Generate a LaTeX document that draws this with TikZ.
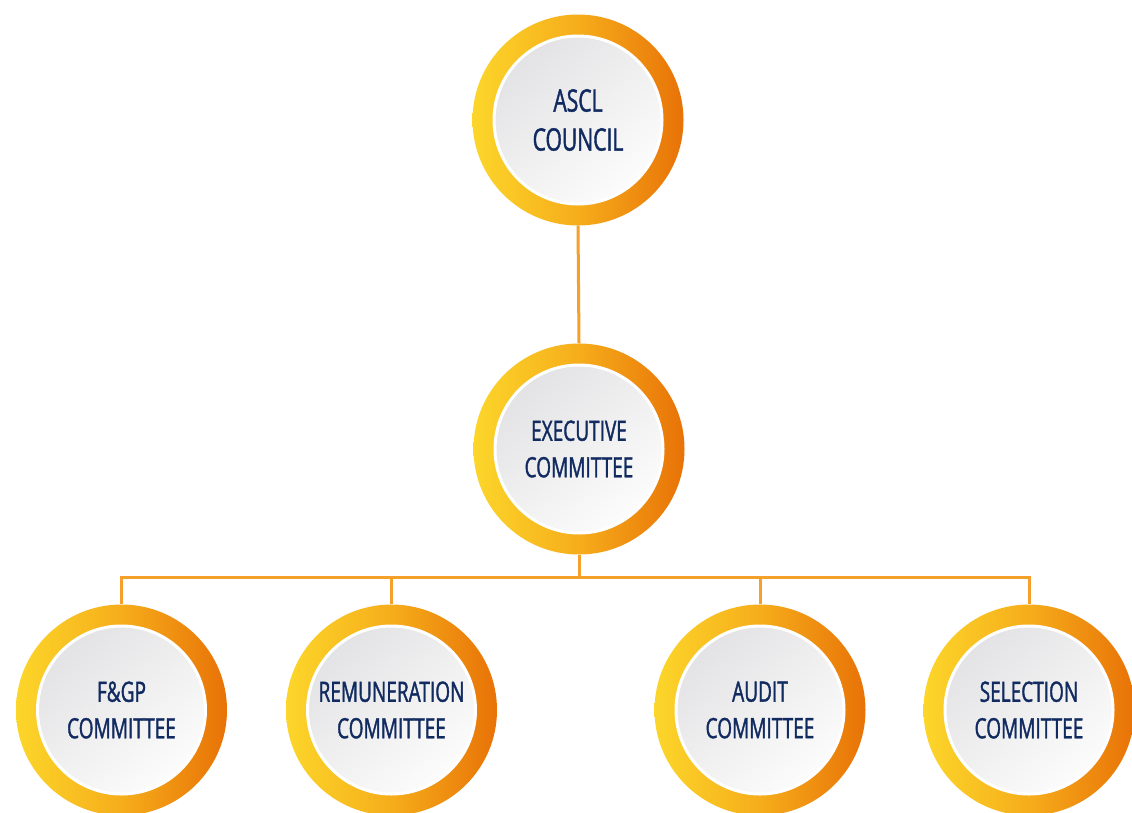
\documentclass[tikz,border=0pt]{standalone}
\usepackage{fontspec}
\setmainfont{Open Sans}[FakeStretch=0.68,FakeBold=1.3]
\begin{document}
\begin{tikzpicture}[x=1pt,y=-1pt,
  ring/.style={circle,minimum size=211pt,inner sep=0pt,
    left color=ringL,right color=ringR,middle color=ringM},
  face/.style={circle,minimum size=168pt,inner sep=0pt,draw=white,line width=3pt,
    top color=faceT,bottom color=faceB,shading angle=40,
    text=navy,align=center},
  big/.style={font=\fontsize{31}{39}\selectfont},
  small/.style={font=\fontsize{28}{36.5}\selectfont},
  link/.style={draw=linkC,line width=3pt}]
\definecolor{ringL}{HTML}{FCD62A}
\definecolor{ringM}{HTML}{F6AD1B}
\definecolor{ringR}{HTML}{E87207}
\definecolor{faceT}{HTML}{E3E3E5}
\definecolor{faceB}{HTML}{FCFCFC}
\definecolor{navy}{HTML}{112A60}
\definecolor{linkC}{HTML}{F4A02A}
\useasboundingbox (0,0) rectangle (1132,812);
\clip (0,0) rectangle (1132,812);
\fill[white] (0,0) rectangle (1132,812);

% rings
\node[ring] (ascl) at (578,120) {};
\node[ring] (exec) at (579,449) {};
\node[ring] (fgp)  at (121.5,710) {};
\node[ring] (rem)  at (391.5,710) {};
\node[ring] (aud)  at (760,710) {};
\node[ring] (sel)  at (1029,710) {};

% connectors
\coordinate (bus) at (579,577);
\path[link] (ascl.south) -- (exec.north);
\path[link] (exec.south) -- (bus);
\path[link] (fgp.north) |- (bus) -| (sel.north);
\path[link] (rem.north) -- (rem.north |- bus);
\path[link] (aud.north) -- (aud.north |- bus);

% faces with labels
\node[face,big]   (asclf) at (ascl) {ASCL\\COUNCIL};
\node[face,small] (execf) at (exec) {EXECUTIVE\\COMMITTEE};
\node[face,small] (fgpf)  at (fgp)  {F\&GP\\COMMITTEE};
\node[face,small] (remf)  at (rem)  {REMUNERATION\\COMMITTEE};
\node[face,small] (audf)  at (aud)  {AUDIT\\COMMITTEE};
\node[face,small] (self)  at (sel)  {SELECTION\\COMMITTEE};
\end{tikzpicture}
\end{document}
